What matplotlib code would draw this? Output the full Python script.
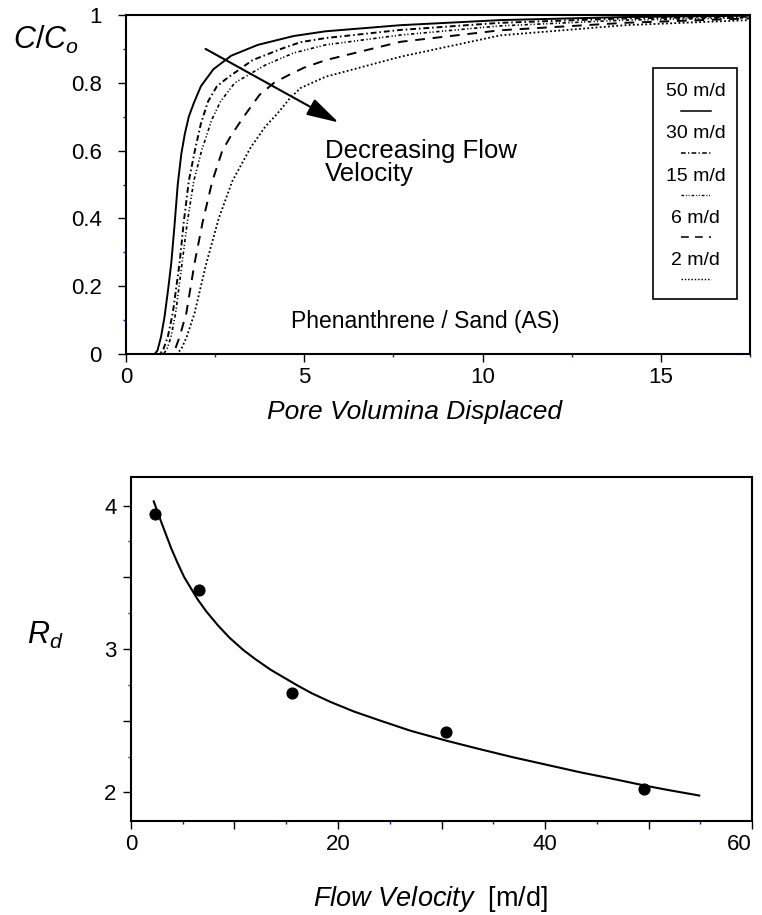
import matplotlib
matplotlib.use('Agg')
import matplotlib.pyplot as plt
from matplotlib.ticker import MultipleLocator, FixedLocator, FixedFormatter
from matplotlib.patches import Rectangle

plt.rcParams['font.family'] = ['Liberation Sans', 'DejaVu Sans']
plt.rcParams['mathtext.fontset'] = 'custom'
plt.rcParams['mathtext.rm'] = 'Liberation Sans'
plt.rcParams['mathtext.it'] = 'Liberation Sans:italic'

# breakthrough curves
pv_50 = [0, 0.80, 0.88, 0.98, 1.08, 1.18, 1.27, 1.36, 1.45, 1.55, 1.65, 1.76, 1.90, 2.10, 2.45, 2.95, 3.7, 4.7, 5.6, 7.7, 10.5, 14.0, 17.5]
c_50 = [0, 0, 0.01, 0.05, 0.11, 0.19, 0.27, 0.38, 0.50, 0.59, 0.65, 0.70, 0.74, 0.79, 0.84, 0.88, 0.912, 0.938, 0.952, 0.970, 0.985, 0.994, 0.998]

pv_30 = [0, 0.95, 1.05, 1.17, 1.31, 1.50, 1.62, 1.76, 1.93, 2.10, 2.30, 2.55, 2.85, 3.55, 4.4, 4.9, 5.6, 7.7, 10.5, 14.0, 17.5]
c_30 = [0, 0, 0.015, 0.05, 0.12, 0.267, 0.39, 0.51, 0.60, 0.68, 0.745, 0.79, 0.815, 0.867, 0.902, 0.920, 0.932, 0.956, 0.977, 0.99, 0.995]

pv_15 = [0, 1.05, 1.15, 1.26, 1.39, 1.57, 1.72, 1.90, 2.12, 2.40, 2.65, 3.05, 3.9, 4.7, 5.6, 7.7, 10.5, 14.0, 17.5]
c_15 = [0, 0, 0.015, 0.05, 0.12, 0.267, 0.39, 0.51, 0.60, 0.69, 0.745, 0.80, 0.852, 0.888, 0.912, 0.941, 0.968, 0.985, 0.992]

pv_6 = [0, 1.25, 1.38, 1.50, 1.69, 1.92, 2.15, 2.42, 2.70, 2.95, 3.30, 3.74, 4.15, 4.6, 5.0, 5.6, 7.7, 10.5, 14.0, 17.5]
c_6 = [0, 0, 0.015, 0.05, 0.12, 0.267, 0.39, 0.51, 0.60, 0.645, 0.70, 0.764, 0.80, 0.825, 0.845, 0.867, 0.921, 0.955, 0.977, 0.99]

pv_2 = [0, 1.42, 1.55, 1.70, 1.92, 2.25, 2.60, 2.98, 3.50, 3.90, 4.25, 4.6, 4.9, 5.6, 7.7, 10.5, 14.0, 17.5]
c_2 = [0, 0, 0.015, 0.05, 0.12, 0.267, 0.40, 0.51, 0.61, 0.67, 0.71, 0.755, 0.785, 0.818, 0.877, 0.94, 0.97, 0.985]

labels = ['50 m/d', '30 m/d', '15 m/d', '6 m/d', '2 m/d']

# retardation vs flow velocity
vel = [2.3, 6.6, 15.6, 30.4, 49.6]
rd = [3.945, 3.41, 2.69, 2.42, 2.02]
vel_fit = [2.2, 2.5, 2.9, 3.9, 4.5, 5.15, 6.45, 7.3, 8.4, 9.5, 10.9, 12.0, 13.5, 16.1, 17.5, 19.3, 21.5,
           24.1, 27.0, 30.5, 33.5, 36.9, 40.0, 43.4, 46.5, 49.8, 52.0, 54.9]
rd_fit = [4.03, 3.97, 3.89, 3.70, 3.60, 3.50, 3.345, 3.26, 3.165, 3.08, 2.99, 2.93, 2.855, 2.745, 2.69, 2.63, 2.565,
          2.50, 2.43, 2.36, 2.305, 2.245, 2.195, 2.14, 2.095, 2.045, 2.015, 1.978]

styles = ['-', (0, (3, 1.5, 0.8, 1.5)), (0, (2, 1.5, 0.7, 1.2, 0.7, 1.5)), (0, (5, 4)), (0, (1, 1.3))]
widths = [1.4, 1.4, 1.2, 1.4, 1.3]
minor_col = '#1c1c9c'

fig = plt.figure(figsize=(7.62, 9.15), dpi=100)
ax1 = fig.add_axes([0.1654, 0.6131, 0.8189, 0.3705])
ax2 = fig.add_axes([0.1719, 0.1027, 0.8150, 0.3760])

curves = [(pv_50, c_50), (pv_30, c_30), (pv_15, c_15), (pv_6, c_6), (pv_2, c_2)]
for (px, cy), ls, lw in zip(curves, styles, widths):
    ax1.plot(px, cy, color='k', linestyle=ls, linewidth=lw)

ax1.set_xlim(0, 17.5)
ax1.set_ylim(0, 1)
ax1.set_xticks([0, 5, 10, 15])
ax1.xaxis.set_minor_locator(MultipleLocator(2.5))
ax1.yaxis.set_major_locator(FixedLocator([0, 0.2, 0.4, 0.6, 0.8, 1.0]))
ax1.yaxis.set_major_formatter(FixedFormatter(['0', '0.2', '0.4', '0.6', '0.8', '1']))
ax1.yaxis.set_minor_locator(MultipleLocator(0.1))
ax1.tick_params(axis='y', which='major', pad=12)

ax1.annotate('', xy=(5.96, 0.683), xytext=(2.23, 0.90),
             arrowprops=dict(arrowstyle='-|>,head_length=0.9,head_width=0.25',
                             mutation_scale=22, lw=1.5, color='k', shrinkA=0, shrinkB=0))
ax1.text(5.57, 0.635, 'Decreasing Flow\nVelocity', fontsize=18.5, va='top', ha='left', linespacing=0.95)
ax1.text(4.63, 0.095, 'Phenanthrene / Sand (AS)', fontsize=16.5, va='center', ha='left')

# legend box with labels above line samples
ax1.add_patch(Rectangle((0.845, 0.162), 0.134, 0.683, transform=ax1.transAxes,
                        fill=False, edgecolor='k', linewidth=1.2))
for i, (lab, ls, lw) in enumerate(zip(labels, styles, widths)):
    ty = 0.774 - i * 0.1245
    ax1.text(0.913, ty, lab, transform=ax1.transAxes, fontsize=14, ha='center', va='center')
    ax1.plot([0.890, 0.937], [ty - 0.056, ty - 0.056], transform=ax1.transAxes,
             color='k', linestyle=ls, linewidth=lw * 0.8)

ax2.plot(vel_fit, rd_fit, color='k', linewidth=1.5)
ax2.scatter(vel, rd, s=60, color='k', zorder=3)
ax2.set_xlim(0, 60)
ax2.set_ylim(1.8, 4.2)
ax2.xaxis.set_major_locator(FixedLocator([0, 10, 20, 30, 40, 50, 60]))
ax2.xaxis.set_major_formatter(FixedFormatter(['0', '', '20', '', '40', '', '60']))
ax2.xaxis.set_minor_locator(MultipleLocator(5))
ax2.yaxis.set_major_locator(FixedLocator([2, 2.5, 3, 3.5, 4]))
ax2.yaxis.set_major_formatter(FixedFormatter(['2', '', '3', '', '4']))
ax2.yaxis.set_minor_locator(MultipleLocator(0.25))
ax2.tick_params(axis='y', which='major', pad=5)

for ax in (ax1, ax2):
    for sp in ax.spines.values():
        sp.set_linewidth(1.5)
    ax.tick_params(which='major', direction='out', length=5.5, width=1, labelsize=16)
    ax.tick_params(which='minor', direction='out', length=2.5, width=1, color=minor_col)
    ax.tick_params(axis='x', which='major', pad=4)

# keep the "60" label inside the canvas, as in the reference
fig.canvas.draw()
for lab in ax2.get_xticklabels():
    if lab.get_text() == '60':
        lab.set_horizontalalignment('right')

fig.text(0.060, 0.956, r'$C/C_o$', fontsize=22, ha='center', va='center')
fig.text(0.5446, 0.5497, 'Pore Volumina Displaced', fontsize=19, style='italic', ha='center', va='center')
fig.text(0.060, 0.305, r'$R_d$', fontsize=22, ha='center', va='center')
fig.text(0.565, 0.0175, r'$Flow\ Velocity$  [m/d]', fontsize=19.5, ha='center', va='center')

fig.savefig('out.png', dpi=100)
